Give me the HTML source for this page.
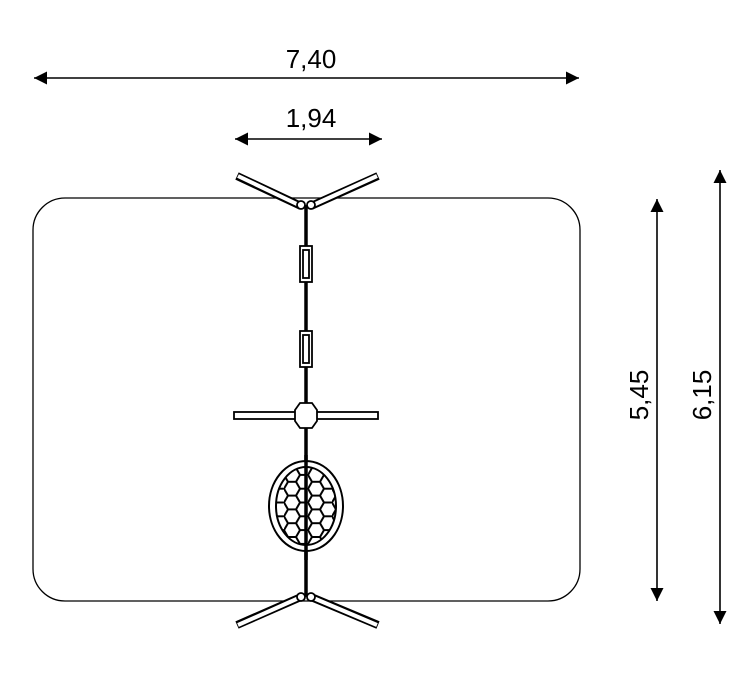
<!DOCTYPE html><html><head><style>body{margin:0;background:#fff}</style></head><body>
<svg width="756" height="678" viewBox="0 0 756 678" xmlns="http://www.w3.org/2000/svg">
<defs>
<marker id="a" viewBox="0 0 10 10" refX="10" refY="5" markerWidth="17" markerHeight="13" markerUnits="userSpaceOnUse" orient="auto-start-reverse"><path d="M0,0L10,5L0,10z" fill="#000"/></marker>
<pattern id="hx" width="24" height="13.8" patternUnits="userSpaceOnUse" x="284" y="468">
<path d="M0,6.9L4,0H12L16,6.9L12,13.8H4Z M16,6.9H24" fill="none" stroke="#000" stroke-width="2"/>
</pattern>
<clipPath id="c"><ellipse cx="306" cy="506" rx="30" ry="39"/></clipPath>
</defs>
<rect x="33" y="198" width="547" height="403" rx="32" fill="none" stroke="#000" stroke-width="1.3"/>
<g stroke="#000" stroke-width="1.6" fill="none">
<line x1="34" y1="78" x2="579" y2="78" marker-start="url(#a)" marker-end="url(#a)"/>
<line x1="235" y1="139" x2="382" y2="139" marker-start="url(#a)" marker-end="url(#a)"/>
<line x1="657" y1="199" x2="657" y2="601" marker-start="url(#a)" marker-end="url(#a)"/>
<line x1="720" y1="170" x2="720" y2="624" marker-start="url(#a)" marker-end="url(#a)"/>
</g>
<g font-family="Liberation Sans, sans-serif" font-size="26" fill="#000" text-anchor="middle">
<text x="311" y="68">7,40</text>
<text x="311" y="127">1,94</text>
<text transform="translate(648,395) rotate(-90)">5,45</text>
<text transform="translate(711,395) rotate(-90)">6,15</text>
</g>
<g stroke="#000" fill="none" stroke-linecap="butt">
<g stroke-width="8"><path d="M237,176L301,206M378,176L311,206M237,625L301,597M378,625L311,597"/></g>
<g stroke="#fff" stroke-width="4"><path d="M238,176L301,206M377,176L311,206M238,625L301,597M377,625L311,597"/></g>
</g>
<g stroke="#000" fill="#fff" stroke-width="1.8">
<line x1="306" y1="205" x2="306" y2="597" stroke-width="3.5"/>
<circle cx="301" cy="205" r="4"/><circle cx="311" cy="205" r="4"/>
<circle cx="301" cy="597" r="4"/><circle cx="311" cy="597" r="4"/>
<rect x="300" y="246" width="12" height="36"/><rect x="303" y="250" width="6" height="28"/>
<rect x="300" y="331" width="12" height="36"/><rect x="303" y="335" width="6" height="28"/>
<rect x="234" y="412" width="144" height="7"/>
<polygon points="300,403 312,403 317,410 317,421 312,428 300,428 295,421 295,410"/>
<ellipse cx="306" cy="506" rx="37" ry="45" stroke-width="2"/>
<ellipse cx="306" cy="506" rx="30" ry="39" stroke-width="2"/>
<rect x="274" y="464" width="64" height="86" fill="url(#hx)" stroke="none" clip-path="url(#c)"/>
<line x1="306" y1="455" x2="306" y2="560" stroke-width="3.5"/>
</g>
</svg></body></html>
